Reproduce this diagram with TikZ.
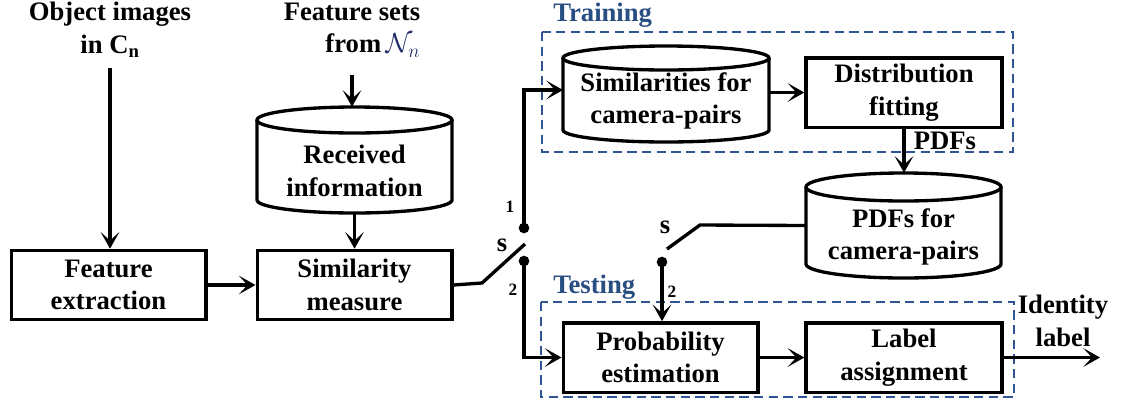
\documentclass[tikz,border=0pt]{standalone}
\usepackage{fontspec}
\setmainfont{Liberation Serif}
\usetikzlibrary{arrows.meta}
\definecolor{frameblue}{RGB}{47,85,151}
\definecolor{titleblue}{RGB}{40,78,130}
\definecolor{mathnavy}{RGB}{35,45,105}

% drum (database) outline with an invisible node covering it
% #1 name, #2 centre x, #3 top ellipse centre y, #4 bottom ellipse centre y,
% #5 half width, #6 ellipse y radius
\newcommand\drum[6]{%
  \draw[wire] (#2,#3) ellipse[x radius=#5*0.75pt, y radius=#6*0.75pt];
  \draw[wire] (#2-#5,#3) -- (#2-#5,#4)
    arc[start angle=180, end angle=360, x radius=#5*0.75pt, y radius=#6*0.75pt]
    -- (#2+#5,#3);
  \path (#2,{(#3+#4)/2}) node[inner sep=0pt, minimum width=#5*1.5pt,
    minimum height={(#4-#3+2*#6)*0.75pt}] (#1) {};
}

\begin{document}
\begin{tikzpicture}[x=0.75pt,y=-0.75pt,
  txt/.style={font=\bfseries\fontsize{20}{24.5}\selectfont, align=center, inner sep=0pt},
  small/.style={font=\bfseries\fontsize{13}{15}\selectfont, inner sep=0pt},
  wire/.style={draw, line width=2.5pt},
  conn/.style={draw, line width=2.6pt, arrows={-Stealth[length=12.5pt,width=14pt,inset=6.5pt]}},
  proc/.style={txt, draw, line width=2.5pt, minimum width=146pt, minimum height=52pt},
  frame/.style={draw=frameblue, line width=1.6pt, dash pattern=on 7pt off 4pt},
  tag/.style={txt, text=titleblue, anchor=west},
  dot/.style={circle, fill, inner sep=0pt, minimum size=8pt}]

\useasboundingbox (0,0) rectangle (1133,405);

% training and testing frames
\draw[frame] (542,32) rectangle (1013,152);
\draw[frame] (541,302) rectangle (1014,397);
\node[tag] (trn) at (553,15) {Training};
\node[tag] (tst) at (553,287) {Testing};

% inputs
\node[txt] (obj) at (110,30) {Object images\\in C\textsubscript{n}};
\node[txt, align=right] (fset) at (352,30) {Feature sets\\from\,{\color{mathnavy}$\mathcal{N}_{n}$}};

% blocks
\node[proc] (fe) at (108.5,285) {Feature\\extraction};
\node[proc] (sm) at (354.5,285) {Similarity\\measure};

\drum{ri}{354.5}{120}{200}{97.5}{13}
\node[txt] (rit) at (354.5,171) {Received\\information};

\drum{sc}{666}{58}{130}{103}{12}
\node[txt] (sct) at (666,101) {Similarities for\\camera-pairs};

\node[proc, minimum width=147pt] (df) at (904,92.5) {Distribution\\fitting};

\drum{pc}{903.5}{187}{264}{97.5}{14}
\node[txt] (pct) at (903.5,237) {PDFs for\\camera-pairs};

\node[proc] (pe) at (660.5,357.5) {Probability\\estimation};
\node[proc, minimum width=147pt] (la) at (904,357.5) {Label\\assignment};

\node[txt] (idl) at (1063,321) {Identity\\label};

% connectors
\coordinate (obj-out) at (110,68);
\path[conn] (obj-out) -- (obj-out |- fe.north);
\coordinate (fset-out) at (352,75);
\path[conn] (fset-out) -- (fset-out |- ri.north);
\path[conn] (ri.south) -- (sm.north);
\path[conn] (fe.east) -- (sm.west);

% first switch
\coordinate (k1) at (482,283);
\coordinate (k2) at (525,244);
\path[wire] (sm.east) -- (k1) -- (k2);
\node[dot] (d1) at (524,228) {};
\node[dot] (d2) at (524,261) {};
\node[small] (n1) at (510,207) {1};
\node[txt] (s1) at (502,245) {s};
\node[small] (n2) at (513,290) {2};
\coordinate (sc-in) at (563,90);
\path[conn] (d1.center) |- (sc-in);
\path[conn] (d2.center) |- (pe.west);

\path[conn] (sc.east |- df.west) -- (df.west);
\path[conn] (df.south) -- (df.south |- pc.north);
\node[txt] (pdfs) at (945,141) {PDFs};

% second switch
\coordinate (k3) at (700,225);
\coordinate (k4) at (667,249);
\path[wire] (pc.west) -- (k3) -- (k4);
\node[dot] (d3) at (662,262) {};
\node[txt] (s2) at (665,227) {s};
\node[small] (n3) at (672,292) {2};
\path[conn] (d3.center) -- (d3.center |- pe.north);

\path[conn] (pe.east) -- (la.west);
\coordinate (out) at (1100,357.5);
\path[conn] (la.east) -- (out);
\end{tikzpicture}
\end{document}
